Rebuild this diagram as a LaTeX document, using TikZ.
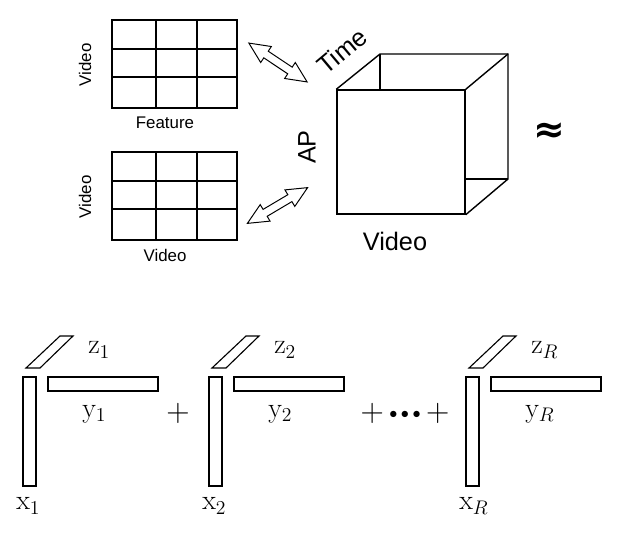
\documentclass[tikz,border=0pt]{standalone}
\usepackage{fix-cm}
\usepackage{fontspec}
\newfontfamily\helv{Liberation Sans}
\newfontfamily\djv{DejaVu Sans}
\usetikzlibrary{shapes.arrows}

\newcommand{\bdot}{\raisebox{0.09em}{$\scriptscriptstyle\bullet$}}

\begin{document}
\begin{tikzpicture}[
    x=0.025cm, y=-0.025cm,
    small/.style={font=\helv\fontsize{12}{14}\selectfont},
    big/.style={font=\helv\fontsize{18}{20}\selectfont},
    mathlbl/.style={font=\fontsize{20}{24}\selectfont, inner sep=0pt},
    matrixbox/.style={draw, line width=1.3pt, minimum width=3.125cm, minimum height=2.2cm, inner sep=0pt},
    cell/.style={line width=0.8pt},
    edge/.style={line width=1pt},
    bar/.style={draw, line width=0.8pt, inner sep=0pt},
    link/.style={
        double arrow, draw, line width=0.7pt,
        minimum height=1.75cm, minimum width=0.45cm,
        inner xsep=0pt, inner ysep=0.088cm,
        double arrow head extend=0.14cm,
        double arrow tip angle=50
    }
]
\useasboundingbox (0,0) rectangle (620,554);

% Matrices
\foreach \dy/\nm in {0/feat, 132/sim} {
    \node[matrixbox] (\nm) at (174.5,64+\dy) {};
    \foreach \gx in {156,197}
        \draw[cell] (\gx,20+\dy) -- (\gx,108+\dy);
    \foreach \gy in {49,77}
        \draw[cell] (112,\gy+\dy) -- (237,\gy+\dy);
    \node[small, rotate=90] (\nm-rows) at (85,65+\dy) {Video};
}
\node[small] (feat-cols) at (165,123) {Feature};
\node[small] (sim-cols) at (165,255) {Video};

% Tenseur
\node[draw, edge, minimum width=3.2cm, minimum height=3.1cm, inner sep=0pt] (cube) at (401,152) {};
\coordinate (back-nw) at (380,54);
\coordinate (back-ne) at (508,54);
\coordinate (back-se) at (508,179);
\draw[edge] (cube.north west) -- (back-nw) -- (back-ne) -- (back-se) -- (cube.south east);
\draw[edge] (cube.north east) -- (back-ne);
\draw[edge] (back-nw) -- (back-nw |- cube.north);
\draw[edge] (back-se) -- (back-se -| cube.east);
\node[big, rotate=40] (time) at (342,51) {Time};
\node[big, rotate=90] (ap) at (307,147) {AP};
\node[big] (vid) at (395,241) {Video};
\node[font=\djv\bfseries\fontsize{27}{27}\selectfont] (approx) at (549,133) {≈};

% Flèches
\node[link, rotate=-33.7] (feat-link) at (278,62.5) {};
\node[link, rotate=30.7] (sim-link) at (277.5,205.5) {};

% Termes de rang 1
\foreach \dx/\k [count=\i] in {0/1, 186/2, 443/R} {
    \begin{scope}[shift={(\dx,0)}]
        \node[bar, minimum width=0.325cm, minimum height=2.725cm] (x\i) at (29.5,431.5) {};
        \node[bar, minimum width=2.75cm, minimum height=0.35cm] (y\i) at (103,384) {};
        \draw[line width=0.8pt] (26,368) -- (40,368) -- (73,336) -- (60,336) -- cycle;
        \node[mathlbl, anchor=west] (zl\i) at (88,350) {$\mathrm{z}_{\k}$};
        \node[mathlbl, anchor=west] (yl\i) at (82,414) {$\mathrm{y}_{\k}$};
        \node[mathlbl, anchor=west] (xl\i) at (16,506) {$\mathrm{x}_{\k}$};
    \end{scope}
}
\node[mathlbl, font=\fontsize{23}{26}\selectfont] (plus) at (178,413) {$+$};
\node[mathlbl, font=\fontsize{23}{26}\selectfont] (dots) at (405,413) {$+\,\bdot\mskip2mu\bdot\mskip2mu\bdot\,+$};

\end{tikzpicture}
\end{document}
